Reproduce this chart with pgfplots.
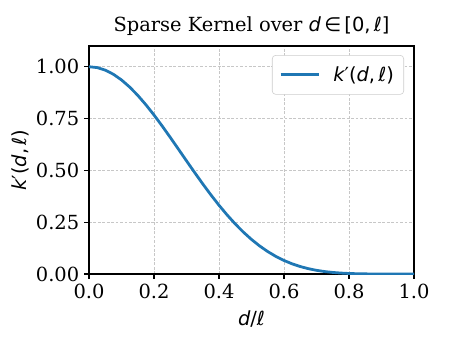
\documentclass[border=0pt]{standalone}
\usepackage{fontspec}
\setmainfont{DejaVu Serif}
\newfontfamily\mfont{DejaVu Sans}
\usepackage{pgfplots}
\pgfplotsset{compat=1.18}
\definecolor{tabblue}{HTML}{1F77B4}
\newcommand{\mi}[1]{{\mfont\itshape #1}}
\newcommand{\mt}[1]{{\mfont #1}}

\pgfplotstableread{
x y
0.000 1.00000
0.025 0.99590
0.050 0.98368
0.075 0.96364
0.100 0.93625
0.125 0.90211
0.150 0.86197
0.175 0.81666
0.200 0.76711
0.225 0.71428
0.250 0.65915
0.275 0.60273
0.300 0.54593
0.325 0.48966
0.350 0.43474
0.375 0.38189
0.400 0.33175
0.425 0.28481
0.450 0.24149
0.475 0.20205
0.500 0.16667
0.525 0.13538
0.550 0.10816
0.575 0.08485
0.600 0.06525
0.625 0.04907
0.650 0.03600
0.675 0.02568
0.700 0.01773
0.725 0.01179
0.750 0.00752
0.775 0.00453
0.800 0.00256
0.825 0.00134
0.850 0.00063
0.875 0.00026
0.900 0.00008
0.925 0.00002
0.950 0.00000
0.975 0.00000
1.000 0.00000
}\kernel

\begin{document}
\begin{tikzpicture}[font=\fontsize{14pt}{17pt}\selectfont]
\path (-64.08pt,-54.72pt) rectangle (259.92pt,197.28pt);
\begin{axis}[
    at={(0,0)}, anchor=south west,
    scale only axis,
    width=234pt, height=164.16pt,
    xmin=0, xmax=1, ymin=0, ymax=1.1,
    xtick={0,0.2,0.4,0.6,0.8,1.0},
    ytick={0,0.25,0.5,0.75,1.0},
    tick pos=left,
    tick align=outside,
    major tick length=3.5pt,
    every tick/.style={black, line width=0.8pt},
    axis line style={line width=0.8pt},
    xticklabel style={/pgf/number format/.cd, fixed, fixed zerofill, precision=1, assume math mode=true},
    yticklabel style={/pgf/number format/.cd, fixed, fixed zerofill, precision=2, assume math mode=true},
    grid=major,
    major grid style={black!22, line width=0.5pt, dash pattern=on 2pt off 1.2pt},
    title={Sparse Kernel over \mi{d}\mt{\,∈\,[0,\,}\mi{ℓ}\mt{]}},
    title style={yshift=-2pt},
    xlabel={\mi{d}\mt{/}\mi{ℓ}},
    ylabel={\mi{k}\mt{′(}\mi{d}\mt{,\,}\mi{ℓ}\mt{)}},
    xlabel style={yshift=-2pt},
    ylabel style={yshift=-2pt},
    legend style={at={(1,1)}, anchor=north east, xshift=-7.2pt, yshift=-6.5pt,
        draw=black!20, rounded corners=2.5pt, inner xsep=5pt, inner ysep=6pt,
        font=\fontsize{14pt}{17pt}\selectfont},
    legend cell align=left,
    legend image code/.code={\draw[#1] (0pt,0pt) -- (28pt,0pt); \path (35pt,0pt);},
]
\addplot[tabblue, line width=2pt] table[x=x, y=y] {\kernel};
\addlegendentry{\mi{k}\mt{′(}\mi{d}\mt{,\,}\mi{ℓ}\mt{)}}
\end{axis}
\end{tikzpicture}
\end{document}
